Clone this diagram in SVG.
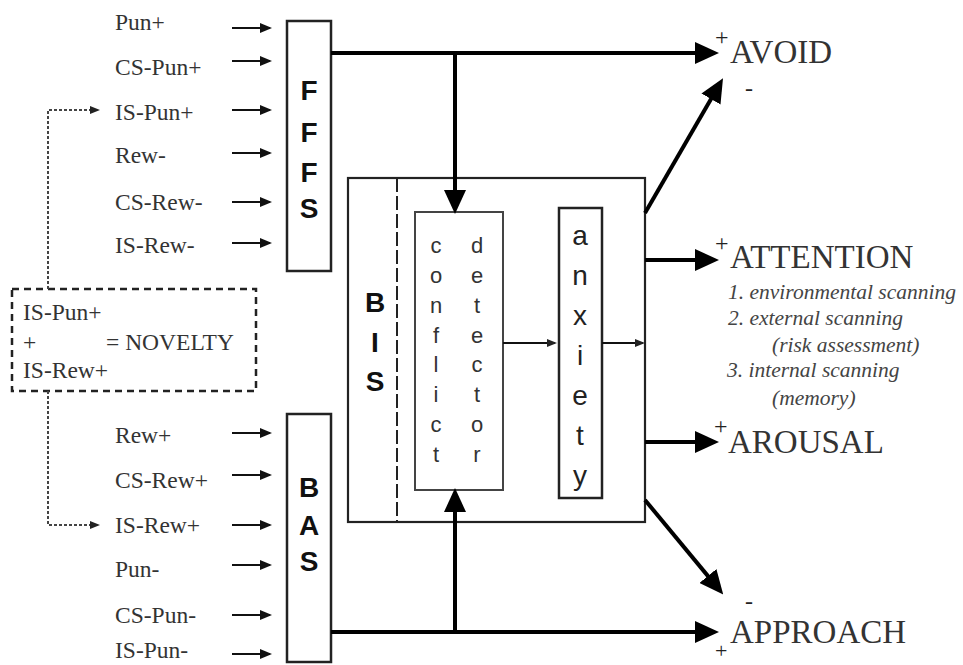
<svg xmlns="http://www.w3.org/2000/svg" width="963" height="665" viewBox="0 0 963 665">
<style>
.in{font-family:"Liberation Serif",serif;font-size:23.5px;fill:#333}
.big{font-family:"Liberation Sans",sans-serif;font-weight:bold;font-size:28px;fill:#111;text-anchor:middle}
.cd{font-family:"Liberation Sans",sans-serif;font-size:22px;fill:#333;text-anchor:middle}
.ax{font-family:"Liberation Sans",sans-serif;font-size:28px;fill:#222;text-anchor:middle}
.out{font-family:"Liberation Serif",serif;font-size:33px;fill:#333}
.sg{font-family:"Liberation Serif",serif;font-size:24px;fill:#222}
.it{font-family:"Liberation Serif",serif;font-style:italic;font-size:21.5px;fill:#444}
.box{fill:#fff;stroke:#222;stroke-width:2.5}
.thin{stroke:#111;stroke-width:1.8;fill:none}
.thick{stroke:#000;stroke-width:4;fill:none}
.dot{stroke:#444;stroke-width:2;stroke-dasharray:3 2;fill:none}
</style>
<defs>
<marker id="big" markerUnits="userSpaceOnUse" markerWidth="24" markerHeight="22" viewBox="0 0 24 22" refX="18" refY="11" orient="auto"><path d="M0,0 L24,11 L0,22 z" fill="#000"/></marker>
<marker id="sm" markerUnits="userSpaceOnUse" markerWidth="12" markerHeight="10" viewBox="0 0 12 10" refX="10" refY="5" orient="auto"><path d="M0,0 L12,5 L0,10 z" fill="#111"/></marker>
<marker id="tiny" markerUnits="userSpaceOnUse" markerWidth="10" markerHeight="8" viewBox="0 0 10 8" refX="8" refY="4" orient="auto"><path d="M0,0 L10,4 L0,8 z" fill="#222"/></marker>
</defs>
<rect width="963" height="665" fill="#fff"/>

<g id="inputs-fffs">
<text class="in" x="115" y="30">Pun+</text>
<text class="in" x="115" y="75">CS-Pun+</text>
<text class="in" x="115" y="120">IS-Pun+</text>
<text class="in" x="115" y="163">Rew-</text>
<text class="in" x="115" y="210">CS-Rew-</text>
<text class="in" x="115" y="253">IS-Rew-</text>
</g>
<g id="inputs-bas">
<text class="in" x="115" y="443">Rew+</text>
<text class="in" x="115" y="488">CS-Rew+</text>
<text class="in" x="115" y="533">IS-Rew+</text>
<text class="in" x="115" y="577">Pun-</text>
<text class="in" x="115" y="623">CS-Pun-</text>
<text class="in" x="115" y="658">IS-Pun-</text>
</g>

<g id="novelty">
<rect x="12" y="289" width="244" height="102" fill="none" stroke="#222" stroke-width="2.5" stroke-dasharray="7 5"/>
<text class="in" x="23" y="320">IS-Pun+</text>
<text class="in" x="23" y="350">+</text>
<text class="in" x="106" y="350">= NOVELTY</text>
<text class="in" x="23" y="378">IS-Rew+</text>
</g>

<g id="fffs">
<rect class="box" x="287" y="21" width="44" height="250"/>
<text class="big" x="309" y="100">F</text>
<text class="big" x="309" y="142">F</text>
<text class="big" x="309" y="182">F</text>
<text class="big" x="309" y="218">S</text>
</g>

<g id="bas">
<rect class="box" x="287" y="414" width="44" height="248"/>
<text class="big" x="309" y="497">B</text>
<text class="big" x="309" y="535">A</text>
<text class="big" x="309" y="571">S</text>
</g>

<g id="bis">
<rect x="348" y="178" width="297" height="344" fill="#fff" stroke="#222" stroke-width="2.2"/>
<line x1="397" y1="178" x2="397" y2="522" stroke="#222" stroke-width="2" stroke-dasharray="14 4"/>
<text class="big" x="375" y="312">B</text>
<text class="big" x="375" y="352">I</text>
<text class="big" x="375" y="391">S</text>
</g>

<g id="conflict-detector">
<rect x="415" y="212" width="88" height="278" fill="#fff" stroke="#444" stroke-width="2"/>
<text class="cd" x="436" y="253">c</text>
<text class="cd" x="436" y="283">o</text>
<text class="cd" x="436" y="313">n</text>
<text class="cd" x="436" y="343">f</text>
<text class="cd" x="436" y="372">l</text>
<text class="cd" x="436" y="402">i</text>
<text class="cd" x="436" y="432">c</text>
<text class="cd" x="436" y="462">t</text>
<text class="cd" x="477" y="253">d</text>
<text class="cd" x="477" y="283">e</text>
<text class="cd" x="477" y="313">t</text>
<text class="cd" x="477" y="343">e</text>
<text class="cd" x="477" y="372">c</text>
<text class="cd" x="477" y="402">t</text>
<text class="cd" x="477" y="432">o</text>
<text class="cd" x="477" y="462">r</text>
</g>

<g id="anxiety">
<rect x="559" y="208" width="43" height="290" fill="#fff" stroke="#222" stroke-width="2.5"/>
<text class="ax" x="580" y="245">a</text>
<text class="ax" x="580" y="285">n</text>
<text class="ax" x="580" y="325">x</text>
<text class="ax" x="580" y="365">i</text>
<text class="ax" x="580" y="405">e</text>
<text class="ax" x="580" y="445">t</text>
<text class="ax" x="580" y="485">y</text>
</g>

<g id="outputs">
<text class="sg" x="715" y="45">+</text>
<text class="out" x="730" y="63">AVOID</text>
<text class="sg" x="745" y="96">-</text>
<text class="sg" x="715" y="251">+</text>
<text class="out" x="730" y="268">ATTENTION</text>
<text class="it" x="728" y="299">1. environmental scanning</text>
<text class="it" x="728" y="325">2. external scanning</text>
<text class="it" x="772" y="352">(risk assessment)</text>
<text class="it" x="727" y="377">3. internal scanning</text>
<text class="it" x="772" y="405">(memory)</text>
<text class="sg" x="714" y="434">+</text>
<text class="out" x="728" y="453">AROUSAL</text>
<text class="sg" x="745" y="609">-</text>
<text class="out" x="730" y="643">APPROACH</text>
<text class="sg" x="715" y="658" style="font-size:22px">+</text>
</g>

<g id="connectors">
<line class="thin" x1="232" y1="28" x2="270" y2="28" marker-end="url(#sm)"/>
<line class="thin" x1="232" y1="61" x2="270" y2="61" marker-end="url(#sm)"/>
<line class="thin" x1="232" y1="110" x2="270" y2="110" marker-end="url(#sm)"/>
<line class="thin" x1="232" y1="153" x2="270" y2="153" marker-end="url(#sm)"/>
<line class="thin" x1="232" y1="202" x2="270" y2="202" marker-end="url(#sm)"/>
<line class="thin" x1="232" y1="243" x2="270" y2="243" marker-end="url(#sm)"/>
<line class="thin" x1="232" y1="433" x2="270" y2="433" marker-end="url(#sm)"/>
<line class="thin" x1="232" y1="475" x2="270" y2="475" marker-end="url(#sm)"/>
<line class="thin" x1="232" y1="525" x2="270" y2="525" marker-end="url(#sm)"/>
<line class="thin" x1="232" y1="565" x2="270" y2="565" marker-end="url(#sm)"/>
<line class="thin" x1="232" y1="615" x2="270" y2="615" marker-end="url(#sm)"/>
<line class="thin" x1="232" y1="654" x2="270" y2="654" marker-end="url(#sm)"/>
<polyline class="dot" points="48,289 48,110 98,110" marker-end="url(#tiny)"/>
<polyline class="dot" points="48,391 48,525 98,525" marker-end="url(#tiny)"/>
<line class="thick" x1="331" y1="53" x2="713" y2="53" marker-end="url(#big)"/>
<line class="thick" x1="455" y1="53" x2="455" y2="208" marker-end="url(#big)"/>
<line class="thick" x1="331" y1="632" x2="713" y2="632" marker-end="url(#big)"/>
<line class="thick" x1="455" y1="632" x2="455" y2="494" marker-end="url(#big)"/>
<line class="thin" x1="503" y1="343" x2="555" y2="343" marker-end="url(#tiny)"/>
<line class="thin" x1="602" y1="343" x2="643" y2="343" marker-end="url(#tiny)"/>
<line class="thick" x1="645" y1="213" x2="720" y2="83.5" marker-end="url(#big)"/>
<line class="thick" x1="645" y1="260" x2="713" y2="260" marker-end="url(#big)"/>
<line class="thick" x1="645" y1="442" x2="713" y2="442" marker-end="url(#big)"/>
<line class="thick" x1="645" y1="500" x2="719.4" y2="589.9" marker-end="url(#big)"/>
</g>
</svg>
